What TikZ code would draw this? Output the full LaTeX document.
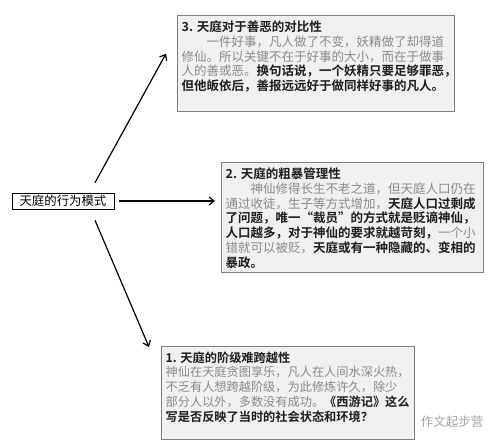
\documentclass[tikz,border=0pt]{standalone}
\usepackage{fontspec}
\setmainfont{Noto Sans CJK SC}[BoldFont={Noto Sans CJK SC Bold}]
\usetikzlibrary{arrows.meta}

\definecolor{cardfill}{HTML}{F0F0F0}
\definecolor{cardline}{HTML}{7F7F7F}
\definecolor{softtxt}{HTML}{8A8A8A}
\definecolor{hardtxt}{HTML}{1E1E1E}
\newcommand{\soft}[1]{{\color{softtxt}#1}}
\newcommand{\hard}[1]{{\color{hardtxt}\bfseries #1}}

\begin{document}
\begin{tikzpicture}[x=1pt,y=-1pt,>={Straight Barb[length=5pt,width=8pt]},line width=1.2pt]
\tikzstyle{card}=[rectangle,draw=cardline,fill=cardfill,line width=1.3pt,anchor=north west,inner xsep=4pt,inner ysep=5pt,font=\fontsize{12.5}{14.8}\selectfont]
\tikzstyle{root}=[rectangle,draw,line width=0.6pt,fill=white,minimum width=102pt,minimum height=16pt,inner sep=1pt,font=\fontsize{12.4}{14}\selectfont]
\useasboundingbox[fill=white] (0,0) rectangle (499,447);

\node[root] (mode) at (63,201) {天庭的行为模式};

\node[card] (S3) at (177,15) {\parbox[t][86pt][t]{269pt}{\raggedright
\hard{3. 天庭对于善恶的对比性}\\
\soft{\hspace*{2em}一件好事，凡人做了不变，妖精做了却得道}\\
\soft{修仙。所以关键不在于好事的大小，而在于做事}\\
\soft{人的善或恶。}\hard{换句话说，一个妖精只要足够罪恶，}\\
\hard{但他皈依后，善报远远好于做同样好事的凡人。}}};

\node[card] (S2) at (221,162) {\parbox[t][100pt][t]{254pt}{\raggedright
\hard{2. 天庭的粗暴管理性}\\
\soft{\hspace*{2em}神仙修得长生不老之道，但天庭人口仍在}\\
\soft{通过收徒，生子等方式增加，}\hard{天庭人口过剩成}\\
\hard{了问题，唯一“裁员”的方式就是贬谪神仙，}\\
\hard{人口越多，对于神仙的要求就越苛刻，}\soft{一个小}\\
\soft{错就可以被贬，}\hard{天庭或有一种隐藏的、变相的}\\
\hard{暴政。}}};

\node[card,font=\fontsize{12.2}{14.8}\selectfont] (S1) at (161,346) {\parbox[t][83pt][t]{245pt}{\raggedright
\hard{1. 天庭的阶级难跨越性}\\
\soft{神仙在天庭贪图享乐，凡人在人间水深火热，}\\
\soft{不乏有人想跨越阶级，为此修炼许久，除少}\\
\soft{部分人以外，多数没有成功。}\hard{《西游记》这么}\\
\hard{写是否反映了当时的社会状态和环境？}}};

\node[text=black!35,font=\fontsize{12.5}{14}\selectfont] (mark) at (452,422) {作文起步营};

\draw[->] ([xshift=32pt,yshift=10pt]mode.north) -- ([xshift=-11pt,yshift=10pt]S3.west);
\draw[->] ([xshift=5pt]mode.east) -- ([xshift=-6pt]S2.west |- mode.east);
\draw[->] ([xshift=32pt,yshift=-11pt]mode.south) -- ([xshift=-12pt,yshift=-1pt]S1.north west);
\end{tikzpicture}
\end{document}
